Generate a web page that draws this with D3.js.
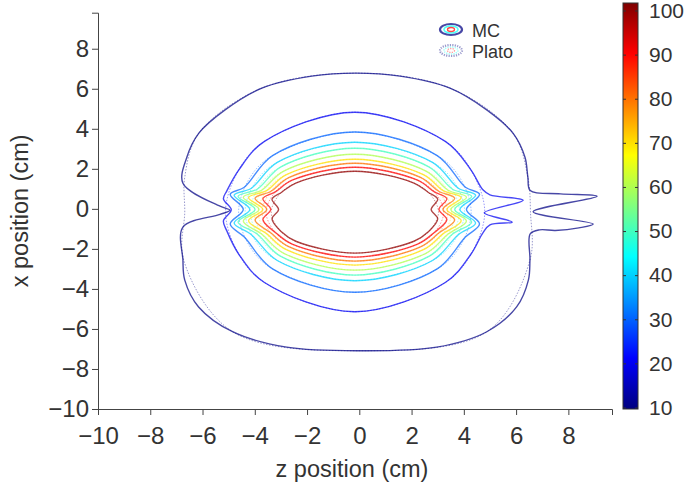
<!DOCTYPE html>
<html>
<head>
<meta charset="utf-8">
<script src="https://cdn.jsdelivr.net/npm/d3@7"></script>
<style>
  body { margin: 0; background: #fff; }
  svg text { font-family: "Liberation Sans", Arial, sans-serif; fill: #333; }
</style>
</head>
<body>
<div id="main"></div>
<script>
// dose levels (%) and tick labels
const levels = [10, 20, 30, 40, 50, 60, 70, 80, 90, 100];
const xTicks = [-10, -8, -6, -4, -2, 0, 2, 4, 6, 8];
const yTicks = [-10, -8, -6, -4, -2, 0, 2, 4, 6, 8];
const cbarTicks = [10, 20, 30, 40, 50, 60, 70, 80, 90, 100];
const legendLabels = ["MC", "Plato"];

// jet colormap anchors
const jetStops = [0, 0.125, 0.375, 0.625, 0.875, 1];
const jetColors = ["#00007f", "#0000ff", "#00ffff", "#ffff00", "#ff0000", "#7f0000"];

// MC isodose outlines, [z, x] in cm
const mc10 = [[-0.13,6.78],[1.56,6.63],[3.47,6.03],[4.89,4.93],[5.88,3.78],[6.34,2.58],[6.45,1.58],[6.54,0.92],[7.7,0.75],[9.1,0.63],[6.65,-0.15],[8.95,-0.76],[8.4,-0.95],[7.5,-1.08],[6.9,-1.05],[6.54,-1.25],[6.53,-2.56],[6.47,-3.56],[6.02,-4.9],[4.88,-6.14],[2.96,-6.91],[0.03,-7.09],[-2.78,-6.91],[-4.85,-6.14],[-6.15,-4.9],[-6.68,-3.56],[-6.75,-2.56],[-6.75,-0.91],[-5.33,-0.28],[-4.95,-0.07],[-5.33,0.13],[-6.75,1.28],[-6.6,2.58],[-6.14,3.78],[-5.15,4.93],[-3.73,6.03],[-1.82,6.63]];
const mc20 = [[-0.17,4.83],[3.29,3.37],[4.27,1.95],[4.73,0.95],[5.0,0.7],[6.27,0.43],[4.78,-0.2],[5.85,-0.66],[5.0,-0.8],[4.73,-1.2],[4.27,-2.27],[3.29,-3.68],[-0.17,-5.14],[-3.63,-3.68],[-4.61,-2.27],[-5.07,-1.1],[-5.2,-0.6],[-4.9,-0.05],[-5.2,0.5],[-5.07,0.9],[-4.61,1.95],[-3.63,3.37]];
const mc30 = [[-0.17,3.84],[2.98,2.66],[4.06,1.08],[4.6,0.73],[4.1,-0.03],[4.6,-0.76],[4.06,-1.41],[2.98,-3.0],[-0.17,-4.17],[-3.32,-3.0],[-4.4,-1.41],[-4.94,-0.76],[-4.44,-0.03],[-4.94,0.73],[-4.4,1.08],[-3.32,2.66]];
const mc40 = [[-0.17,3.33],[2.80,2.32],[3.79,1.03],[4.45,0.68],[3.85,-0.03],[4.45,-0.71],[3.79,-1.29],[2.80,-2.58],[-0.17,-3.59],[-3.14,-2.58],[-4.13,-1.29],[-4.79,-0.71],[-4.19,-0.03],[-4.79,0.68],[-4.13,1.03],[-3.14,2.32]];
const mc50 = [[-0.17,3.03],[2.66,2.10],[3.57,0.98],[4.3,0.63],[3.65,-0.03],[4.3,-0.66],[3.57,-1.26],[2.66,-2.38],[-0.17,-3.31],[-3.0,-2.38],[-3.91,-1.26],[-4.64,-0.66],[-3.99,-0.03],[-4.64,0.63],[-3.91,0.98],[-3.0,2.10]];
const mc60 = [[-0.17,2.73],[2.55,1.89],[3.40,0.93],[4.1,0.58],[3.5,-0.03],[4.1,-0.61],[3.40,-1.26],[2.55,-2.22],[-0.17,-3.06],[-2.89,-2.22],[-3.74,-1.26],[-4.44,-0.61],[-3.84,-0.03],[-4.44,0.58],[-3.74,0.93],[-2.89,1.89]];
const mc70 = [[-0.17,2.48],[2.45,1.71],[3.21,0.91],[3.9,0.56],[3.35,-0.03],[3.9,-0.59],[3.21,-1.24],[2.45,-2.04],[-0.17,-2.81],[-2.79,-2.04],[-3.55,-1.24],[-4.24,-0.59],[-3.69,-0.03],[-4.24,0.56],[-3.55,0.91],[-2.79,1.71]];
const mc80 = [[-0.17,2.28],[2.34,1.57],[3.04,0.88],[3.65,0.53],[3.2,-0.03],[3.65,-0.56],[3.04,-1.21],[2.34,-1.9],[-0.17,-2.61],[-2.68,-1.9],[-3.38,-1.21],[-3.99,-0.56],[-3.54,-0.03],[-3.99,0.53],[-3.38,0.88],[-2.68,1.57]];
const mc90 = [[-0.17,2.08],[2.23,1.43],[2.86,0.86],[3.35,0.51],[3.05,-0.03],[3.35,-0.54],[2.86,-1.19],[2.23,-1.76],[-0.17,-2.41],[-2.57,-1.76],[-3.2,-1.19],[-3.69,-0.54],[-3.39,-0.03],[-3.69,0.51],[-3.2,0.86],[-2.57,1.43]];
const mc100 = [[-0.17,1.88],[2.09,1.29],[2.63,0.83],[3.0,0.48],[2.75,-0.03],[3.0,-0.51],[2.63,-1.16],[2.09,-1.62],[-0.17,-2.21],[-2.43,-1.62],[-2.97,-1.16],[-3.34,-0.51],[-3.09,-0.03],[-3.34,0.48],[-2.97,0.83],[-2.43,1.29]];

// Plato isodose outlines (smooth, no end effects)
const plato10 = [[-0.13,6.78],[3.47,6.03],[5.88,3.78],[6.45,1.58],[6.55,-0.15],[6.53,-2.56],[4.88,-6.14],[0.03,-7.09],[-4.85,-6.14],[-6.72,-2.56],[-6.68,-0.15],[-6.68,1.58],[-6.14,3.78],[-3.73,6.03]];
const plato20 = [[-0.17,4.83],[3.29,3.37],[4.27,1.95],[4.8,-0.15],[4.27,-2.27],[3.29,-3.68],[-0.17,-5.14],[-3.63,-3.68],[-4.61,-2.27],[-5.12,-0.15],[-4.61,1.95],[-3.63,3.37]];
const plato30 = [[-0.17,3.84],[2.98,2.66],[3.86,1.53],[4.28,-0.17],[3.86,-1.86],[2.98,-3.0],[-0.17,-4.17],[-3.32,-3.0],[-4.2,-1.86],[-4.62,-0.17],[-4.2,1.53],[-3.32,2.66]];
const plato40 = [[-0.17,3.33],[2.80,2.32],[3.64,1.33],[4.03,-0.13],[3.64,-1.59],[2.80,-2.58],[-0.17,-3.59],[-3.14,-2.58],[-3.98,-1.59],[-4.37,-0.13],[-3.98,1.33],[-3.14,2.32]];
const plato50 = [[-0.17,3.03],[2.66,2.10],[3.45,1.20],[3.83,-0.14],[3.45,-1.48],[2.66,-2.38],[-0.17,-3.31],[-3.0,-2.38],[-3.79,-1.48],[-4.17,-0.14],[-3.79,1.20],[-3.0,2.10]];
const plato60 = [[-0.17,2.73],[2.55,1.89],[3.32,1.06],[3.68,-0.17],[3.32,-1.39],[2.55,-2.22],[-0.17,-3.06],[-2.89,-2.22],[-3.66,-1.39],[-4.02,-0.17],[-3.66,1.06],[-2.89,1.89]];
const plato70 = [[-0.17,2.48],[2.45,1.71],[3.18,0.96],[3.53,-0.17],[3.18,-1.29],[2.45,-2.04],[-0.17,-2.81],[-2.79,-2.04],[-3.52,-1.29],[-3.87,-0.17],[-3.52,0.96],[-2.79,1.71]];
const plato80 = [[-0.17,2.28],[2.34,1.57],[3.05,0.87],[3.38,-0.17],[3.05,-1.2],[2.34,-1.9],[-0.17,-2.61],[-2.68,-1.9],[-3.39,-1.2],[-3.72,-0.17],[-3.39,0.87],[-2.68,1.57]];
const plato90 = [[-0.17,2.08],[2.23,1.43],[2.91,0.79],[3.23,-0.17],[2.91,-1.12],[2.23,-1.76],[-0.17,-2.41],[-2.57,-1.76],[-3.25,-1.12],[-3.57,-0.17],[-3.25,0.79],[-2.57,1.43]];
const plato100 = [[-0.17,1.88],[2.09,1.29],[2.73,0.70],[3.03,-0.17],[2.73,-1.03],[2.09,-1.62],[-0.17,-2.21],[-2.43,-1.62],[-3.07,-1.03],[-3.37,-0.17],[-3.07,0.70],[-2.43,1.29]];

const mcRings = [mc10, mc20, mc30, mc40, mc50, mc60, mc70, mc80, mc90, mc100];
const platoRings = [plato10, plato20, plato30, plato40, plato50, plato60, plato70, plato80, plato90, plato100];

class ContourPlot {
  constructor(config) {
    this.config = config;
    this.svg = null;
    this.margins = null;
    this.xScale = null;
    this.yScale = null;
    this.color = null;
    this.createSvg();
    this.createMargins();
  }

  createSvg() {
    this.svg = d3.select(this.config.div)
      .append("svg")
      .attr("width", this.config.width + this.config.left + this.config.right)
      .attr("height", this.config.height + this.config.top + this.config.bottom);
  }

  createMargins() {
    this.margins = this.svg
      .append("g")
      .attr("transform", `translate(${this.config.left},${this.config.top})`);
  }

  createScales() {
    this.xScale = d3.scaleLinear().domain([-10, 9.67]).range([0, this.config.width]);
    this.yScale = d3.scaleLinear().domain([-10, 9.8]).range([this.config.height, 0]);

    const cmin = 9.66, cmax = 101.7;
    const jet = d3.scaleLinear().domain(jetStops).range(jetColors).interpolate(d3.interpolateRgb);
    this.color = v => jet((v - cmin) / (cmax - cmin));
    this.cScale = d3.scaleLinear().domain([cmin, cmax]).range([this.config.height + this.config.top, 3]);
  }

  createAxis() {
    const xAxis = d3.axisBottom(this.xScale).tickValues(xTicks).tickFormat(d3.format("d")).tickSize(6).tickPadding(3);
    const yAxis = d3.axisLeft(this.yScale).tickValues(yTicks).tickFormat(d3.format("d")).tickSize(6).tickPadding(3);

    const gx = this.margins.append("g")
      .attr("transform", `translate(0,${this.config.height})`)
      .call(xAxis);
    const gy = this.margins.append("g").call(yAxis);

    [gx, gy].forEach(g => {
      g.select(".domain").attr("stroke", "#444");
      g.selectAll(".tick line").attr("stroke", "#444");
      g.selectAll(".tick text").attr("font-size", 24).attr("fill", "#333")
        .attr("font-family", "Liberation Sans, Arial, sans-serif");
    });
    gx.selectAll(".tick text").attr("dy", "1.1em");

    this.svg.append("text")
      .attr("x", this.config.left + this.config.width / 2 - 3)
      .attr("y", 477)
      .attr("text-anchor", "middle")
      .attr("font-size", 23.5)
      .text("z position (cm)");

    this.svg.append("text")
      .attr("transform", `translate(27.5,${this.config.top + this.config.height / 2}) rotate(-90)`)
      .attr("text-anchor", "middle")
      .attr("font-size", 23.5)
      .text("x position (cm)");
  }

  createContours() {
    this.svg.append("clipPath").attr("id", "plotclip")
      .append("rect").attr("width", this.config.width).attr("height", this.config.height);

    const line = d3.line()
      .x(d => this.xScale(d[0]))
      .y(d => this.yScale(d[1]))
      .curve(d3.curveCatmullRomClosed.alpha(0.5));

    const g = this.margins.append("g").attr("clip-path", "url(#plotclip)");

    g.selectAll(".plato")
      .data(platoRings)
      .join("path")
      .attr("class", "plato")
      .attr("fill", "none")
      .attr("stroke", (d, i) => this.color(levels[i]))
      .attr("stroke-width", 0.9)
      .attr("stroke-dasharray", "1.5,1.5")
      .attr("opacity", 0.45)
      .attr("d", line);

    g.selectAll(".mc")
      .data(mcRings)
      .join("path")
      .attr("class", "mc")
      .attr("fill", "none")
      .attr("stroke", (d, i) => this.color(levels[i]))
      .attr("stroke-width", 1.4)
      .attr("stroke-linejoin", "round")
      .attr("opacity", 0.72)
      .attr("d", line);
  }

  createLegend() {
    const rings = [[11, 5.5, 10, 2.2], [7, 3.5, 45, 1.6], [3.5, 2, 90, 1.3]];
    const row = this.svg.selectAll(".legend")
      .data(legendLabels)
      .join("g")
      .attr("class", "legend")
      .attr("transform", (d, i) => `translate(451,${29.5 + i * 21})`);

    row.each((label, i, nodes) => {
      d3.select(nodes[i]).selectAll("ellipse")
        .data(rings)
        .join("ellipse")
        .attr("rx", r => r[0])
        .attr("ry", r => r[1])
        .attr("fill", "none")
        .attr("stroke", r => this.color(r[2]))
        .attr("stroke-width", r => r[3])
        .attr("stroke-dasharray", i === 1 ? "1.2,1.2" : null)
        .attr("opacity", i === 1 ? 0.4 : 0.72);
    });

    row.append("text")
      .attr("x", 21)
      .attr("y", 7)
      .attr("font-size", 18)
      .text(d => d);
  }

  createColorbar() {
    const x0 = 623, w = 15;
    const grad = this.svg.append("defs").append("linearGradient")
      .attr("id", "jetgrad")
      .attr("x1", 0).attr("y1", 1).attr("x2", 0).attr("y2", 0);
    grad.selectAll("stop")
      .data(jetStops)
      .join("stop")
      .attr("offset", d => d)
      .attr("stop-color", (d, i) => jetColors[i]);

    const [yb, yt] = this.cScale.range();
    this.svg.append("rect")
      .attr("x", x0).attr("y", yt)
      .attr("width", w).attr("height", yb - yt)
      .attr("fill", "url(#jetgrad)")
      .attr("stroke", "#333").attr("stroke-width", 1);

    const right = d3.axisRight(this.cScale).tickValues(cbarTicks).tickSize(-3).tickPadding(11);
    const gr = this.svg.append("g").attr("transform", `translate(${x0 + w},0)`).call(right);
    gr.select(".domain").remove();
    gr.selectAll(".tick line").attr("stroke", "#333");
    gr.selectAll(".tick text").attr("font-size", 21).attr("fill", "#333")
      .attr("font-family", "Liberation Sans, Arial, sans-serif");

    const left = d3.axisLeft(this.cScale).tickValues(cbarTicks).tickSize(-3).tickFormat("");
    const gl = this.svg.append("g").attr("transform", `translate(${x0},0)`).call(left);
    gl.select(".domain").remove();
    gl.selectAll(".tick line").attr("stroke", "#333");
  }
}

function main() {
  const c = { div: "#main", width: 514, height: 396.3, top: 12.7, left: 98, bottom: 74, right: 74 };
  const app = new ContourPlot(c);
  app.createScales();
  app.createContours();
  app.createAxis();
  app.createLegend();
  app.createColorbar();
}

main();
</script>
</body>
</html>
